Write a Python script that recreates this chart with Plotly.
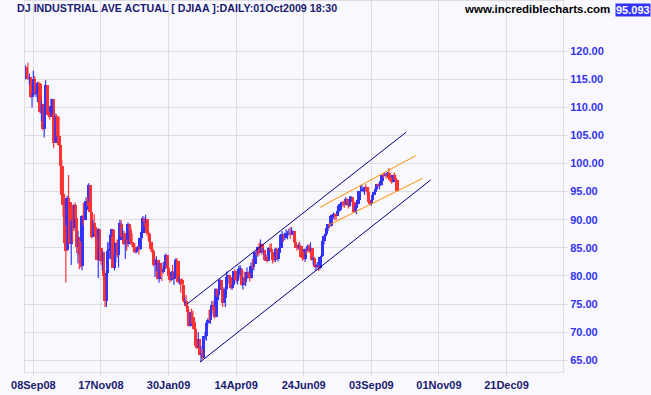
import plotly.graph_objects as go

# ---------------- data (DJIA, points; chart shows points / 100) ----------------
# daily bars from 28 Aug 2008 to 01 Oct 2009, one line per trading week
opens = [
    11503, 11713, 11545, 11515, 11531, 11185,
    11224, 11511, 11230, 11267, 11432,
    11416, 10905, 11056, 10610, 11027,
    11388, 11015, 10855, 10825, 11020,
    11139, 10368, 10847, 10825, 10483,
    10322, 9956, 9435, 9261, 8568,
    8462, 9388, 9311, 8577, 8974,
    8853, 9265, 9034, 8519, 8690,
    8376, 8178, 9066, 8991, 9179,
    9320, 9320, 9617, 9135, 8696,
    8944, 8870, 8690, 8282, 8830,
    8497, 8273, 8424, 7995, 7550,
    8048, 8445, 8478, 8726,
    8826, 8149, 8418, 8592, 8376,
    8637, 8931, 8693, 8760, 8565,
    8629, 8565, 8922, 8823, 8604,
    8579, 8520, 8420, 8468,
    8514, 8483, 8668, 8772,
    9034, 8954, 9015, 8769, 8738,
    8599, 8473, 8447, 8199, 8211,
    8279, 7949, 8226, 8120,
    8078, 8116, 8174, 8373, 8149,
    7998, 7937, 8077, 7954, 8062,
    8278, 8269, 7888, 7938, 7933,
    7845, 7552, 7555, 7461,
    7366, 7115, 7350, 7269, 7180,
    7056, 6764, 6726, 6874, 6595,
    6625, 6547, 6923, 6931, 7170,
    7223, 7216, 7392, 7484, 7400,
    7279, 7772, 7661, 7750, 7923,
    7775, 7523, 7606, 7761, 7978,
    8015, 7974, 7790, 7838,
    8080, 8056, 7919, 8028, 8124,
    8128, 7841, 7968, 7886, 7957,
    8075, 8024, 7957, 8186, 8168,
    8212, 8425, 8411, 8510, 8410,
    8572, 8419, 8467, 8284, 8330,
    8268, 8504, 8474, 8421, 8292,
    8277, 8472, 8301, 8403,
    8500, 8720, 8739, 8673, 8751,
    8762, 8763, 8763, 8740, 8770,
    8798, 8612, 8504, 8497, 8555,
    8538, 8340, 8323, 8299, 8471,
    8439, 8528, 8447, 8503,
    8280, 8324, 8163, 8179, 8182,
    8147, 8332, 8360, 8614, 8710,
    8743, 8849, 8915, 8882, 9068,
    9093, 9107, 9095, 9071, 9153,
    9172, 9285, 9320, 9281, 9256,
    9370, 9336, 9241, 9361, 9397,
    9320, 9136, 9217, 9279, 9350,
    9506, 9510, 9539, 9543, 9581,
    9545, 9497, 9311, 9281, 9345,
    9442, 9497, 9547, 9627,
    9605, 9626, 9684, 9791, 9784,
    9820, 9778, 9830, 9748, 9707,
    9664, 9790, 9742, 9712,
]
highs = [
    11750, 11716, 11790, 11600, 11532, 11260,
    11650, 11550, 11380, 11450, 11460,
    11416, 11120, 11056, 11060, 11480,
    11388, 11100, 10920, 11150, 11150,
    11139, 10890, 10880, 10830, 10840,
    10322, 10070, 9600, 9460, 8900,
    9427, 9794, 9311, 9000, 9265,
    9280, 9306, 9034, 8800, 8690,
    8615, 9080, 9300, 9300, 9400,
    9400, 9650, 9617, 9135, 9000,
    9100, 8870, 8690, 8850, 8830,
    8500, 8450, 8430, 8000, 8100,
    8600, 8600, 8750, 8830,
    8826, 8425, 8600, 8650, 8650,
    9000, 8990, 8850, 8800, 8650,
    8650, 8950, 8930, 8870, 8750,
    8600, 8580, 8480, 8530,
    8530, 8680, 8830, 9065,
    9040, 9088, 9015, 8800, 8770,
    8610, 8550, 8450, 8300, 8350,
    8280, 8240, 8230, 8150,
    8250, 8250, 8400, 8373, 8240,
    8000, 8090, 8200, 8090, 8310,
    8320, 8270, 7990, 7940, 7960,
    7850, 7620, 7660, 7470,
    7400, 7360, 7420, 7380, 7200,
    7060, 6860, 7000, 6874, 6760,
    6710, 6930, 7010, 7170, 7250,
    7400, 7400, 7550, 7560, 7460,
    7780, 7775, 7900, 7950, 7923,
    7775, 7800, 7770, 8080, 8020,
    8020, 7974, 7870, 8090,
    8120, 8060, 8040, 8180, 8190,
    8128, 7990, 8080, 7970, 8150,
    8080, 8050, 8240, 8300, 8240,
    8430, 8450, 8520, 8590, 8650,
    8572, 8500, 8467, 8380, 8370,
    8510, 8570, 8580, 8420, 8360,
    8500, 8500, 8460, 8510,
    8740, 8800, 8740, 8760, 8830,
    8800, 8840, 8860, 8870, 8810,
    8798, 8660, 8550, 8580, 8610,
    8538, 8380, 8430, 8490, 8480,
    8560, 8560, 8600, 8503,
    8340, 8330, 8210, 8250, 8190,
    8340, 8380, 8630, 8720, 8760,
    8860, 8920, 8940, 9080, 9100,
    9130, 9110, 9100, 9250, 9230,
    9290, 9320, 9330, 9340, 9400,
    9380, 9340, 9420, 9420, 9400,
    9320, 9230, 9290, 9360, 9510,
    9600, 9620, 9580, 9590, 9630,
    9545, 9580, 9360, 9350, 9450,
    9500, 9560, 9630, 9650,
    9630, 9690, 9800, 9830, 9840,
    9820, 9850, 9917, 9790, 9750,
    9800, 9840, 9800, 9712,
]
lows = [
    11499, 11520, 11485, 11400, 11170, 10995,
    11224, 11220, 11180, 11090, 11300,
    10890, 10750, 10590, 10460, 11020,
    11010, 10840, 10780, 10825, 10880,
    10270, 10368, 10710, 10460, 10300,
    9525, 9430, 9050, 8570, 7882,
    8462, 9094, 8577, 8197, 8600,
    8800, 8980, 8410, 8220, 8120,
    8150, 8100, 8900, 8990, 9000,
    9250, 9320, 9130, 8670, 8690,
    8770, 8590, 8280, 7966, 8460,
    8200, 8100, 7990, 7449, 7450,
    8048, 8300, 8300, 8700,
    8140, 8100, 8250, 8330, 8150,
    8637, 8680, 8650, 8550, 8300,
    8450, 8520, 8730, 8550, 8520,
    8420, 8410, 8400, 8440,
    8380, 8460, 8650, 8760,
    8890, 8940, 8720, 8650, 8560,
    8420, 8400, 8170, 7980, 8080,
    7940, 7880, 7990, 7910,
    8040, 8080, 8174, 8130, 7990,
    7880, 7910, 7950, 7840, 8060,
    8200, 7870, 7850, 7700, 7840,
    7530, 7480, 7440, 7250,
    7100, 7100, 7150, 7170, 7040,
    6760, 6700, 6726, 6590, 6470,
    6520, 6547, 6870, 6850, 7120,
    7200, 7150, 7300, 7350, 7240,
    7279, 7630, 7570, 7750, 7750,
    7450, 7523, 7450, 7761, 7860,
    7840, 7770, 7750, 7838,
    7950, 7880, 7850, 7940, 8000,
    7830, 7760, 7860, 7820, 7940,
    7960, 7900, 7957, 8130, 8100,
    8212, 8350, 8340, 8370, 8410,
    8380, 8380, 8270, 8270, 8240,
    8268, 8450, 8410, 8220, 8250,
    8250, 8300, 8260, 8360,
    8500, 8680, 8610, 8640, 8690,
    8650, 8720, 8660, 8730, 8720,
    8580, 8500, 8450, 8470, 8500,
    8320, 8270, 8290, 8250, 8380,
    8430, 8410, 8440, 8270,
    8200, 8150, 8090, 8150, 8090,
    8110, 8300, 8360, 8560, 8670,
    8740, 8800, 8850, 8880, 8990,
    9020, 8990, 9000, 9071, 9130,
    9172, 9250, 9230, 9210, 9256,
    9300, 9200, 9230, 9320, 9270,
    9120, 9130, 9100, 9270, 9350,
    9500, 9500, 9490, 9440, 9500,
    9450, 9300, 9260, 9250, 9340,
    9440, 9460, 9520, 9580,
    9540, 9600, 9680, 9750, 9770,
    9730, 9770, 9740, 9670, 9640,
    9664, 9720, 9610, 9500,
]
closes = [
    11715, 11543, 11516, 11532, 11188, 11220,
    11510, 11231, 11268, 11433, 11421,
    10917, 11059, 10609, 11019, 11388,
    11015, 10854, 10825, 11022, 11143,
    10365, 10851, 10831, 10483, 10325,
    9955, 9447, 9258, 8579, 8451,
    9387, 9310, 8577, 8979, 8852,
    9265, 9033, 8519, 8691, 8378,
    8175, 9065, 8990, 9180, 9325,
    9319, 9625, 9139, 8695, 8943,
    8870, 8693, 8283, 8835, 8497,
    8273, 8424, 7997, 7552, 8046,
    8443, 8479, 8726, 8829,
    8149, 8419, 8591, 8376, 8635,
    8934, 8691, 8761, 8565, 8629,
    8564, 8924, 8824, 8604, 8579,
    8519, 8419, 8468, 8515,
    8483, 8668, 8776, 9034,
    8952, 9015, 8769, 8742, 8599,
    8474, 8448, 8200, 8212, 8281,
    7949, 8228, 8123, 8077,
    8116, 8175, 8375, 8149, 8001,
    7936, 8078, 7956, 8063, 8280,
    8270, 7889, 7939, 7932, 7850,
    7553, 7556, 7465, 7366,
    7114, 7351, 7270, 7182, 7063,
    6763, 6726, 6876, 6594, 6627,
    6547, 6926, 6930, 7170, 7224,
    7216, 7395, 7486, 7400, 7278,
    7776, 7660, 7749, 7924, 7776,
    7522, 7609, 7761, 7978, 8017,
    7975, 7789, 7837, 8083,
    8058, 7920, 8029, 8125, 8131,
    7841, 7969, 7886, 7957, 8076,
    8025, 7956, 8185, 8168, 8212,
    8426, 8410, 8512, 8409, 8575,
    8418, 8469, 8284, 8331, 8268,
    8504, 8474, 8422, 8292, 8277,
    8473, 8300, 8403, 8500,
    8721, 8740, 8675, 8750, 8764,
    8764, 8763, 8739, 8770, 8799,
    8612, 8504, 8497, 8555, 8539,
    8340, 8323, 8299, 8472, 8438,
    8530, 8447, 8504, 8280,
    8324, 8163, 8178, 8183, 8146,
    8332, 8359, 8616, 8711, 8743,
    8848, 8916, 8881, 9069, 9093,
    9108, 9096, 9070, 9154, 9172,
    9286, 9320, 9280, 9256, 9370,
    9337, 9241, 9361, 9398, 9321,
    9136, 9218, 9279, 9350, 9506,
    9509, 9539, 9543, 9581, 9545,
    9497, 9311, 9281, 9345, 9442,
    9497, 9547, 9627, 9606,
    9627, 9684, 9792, 9784, 9821,
    9778, 9830, 9749, 9707, 9665,
    9790, 9742, 9712, 9509,
]
first_bar_offset = -6          # 28Aug08 is 6 trading days before 08Sep08

tick_positions = [0, 50, 100, 150, 200, 250, 300, 350]   # trading-day index
tick_labels = ["08Sep08", "17Nov08", "30Jan09", "14Apr09",
               "24Jun09", "03Sep09", "01Nov09", "21Dec09"]
y_ticks = [65, 70, 75, 80, 85, 90, 95, 100, 105, 110, 115, 120]

# trend lines (trading-day index, index value)
channel_upper_x = [113.5, 275.7]
channel_upper_y = [74.97, 105.55]
channel_lower_x = [123.3, 293.9]
channel_lower_y = [64.70, 97.07]
minor_upper_x = [212.1, 282.8]
minor_upper_y = [92.21, 101.39]
minor_lower_x = [218.2, 288.0]
minor_lower_y = [89.01, 97.37]

title_text = "DJ INDUSTRIAL AVE ACTUAL [ DJIAA ]:DAILY:01Oct2009 18:30"
site_text = "www.incrediblecharts.com"
last_value = "95.093"

# ---------------- styling ----------------
BG = "#f8f8fe"
GRID = "#dedee2"
RED = "#ff3333"
BLUE = "#3333ff"
NAVY = "#000080"
ORANGE = "#ff8c00"
FONT = "Liberation Sans, Arial, sans-serif"

assert len(opens) == len(highs) == len(lows) == len(closes)
n = len(closes)
scale = 0.01
O = [v * scale for v in opens]
H = [v * scale for v in highs]
L = [v * scale for v in lows]
C = [v * scale for v in closes]
X = [first_bar_offset + k for k in range(n)]

up = [C[k] >= O[k] for k in range(n)]
colors = [BLUE if u else RED for u in up]
base = [min(O[k], C[k]) for k in range(n)]
body = [max(abs(C[k] - O[k]), 0.1) for k in range(n)]

fig = go.Figure()

# wicks
for flag, col in ((True, BLUE), (False, RED)):
    wx, wy = [], []
    for k in range(n):
        if up[k] == flag:
            wx += [X[k], X[k], None]
            wy += [L[k], H[k], None]
    fig.add_trace(go.Scatter(x=wx, y=wy, mode="lines",
                             line=dict(color=col, width=1.2),
                             hoverinfo="skip", showlegend=False))

# bodies
fig.add_trace(go.Bar(x=X, y=body, base=base, width=2.6,
                     marker=dict(color=colors, line=dict(width=0)),
                     showlegend=False))

for xs, ys, col in ((channel_upper_x, channel_upper_y, NAVY),
                    (channel_lower_x, channel_lower_y, NAVY),
                    (minor_upper_x, minor_upper_y, ORANGE),
                    (minor_lower_x, minor_lower_y, ORANGE)):
    fig.add_trace(go.Scatter(x=xs, y=ys, mode="lines",
                             line=dict(color=col, width=1),
                             showlegend=False))

W, HGT = 651, 395
PL, PR, PT, PB = 25, 563, 1, 372


def px(xp):
    return (xp - PL) / (PR - PL)


def py(yp):
    return (PB - yp) / (PB - PT)


fig.update_layout(
    width=W, height=HGT,
    margin=dict(l=PL, r=W - PR, t=PT, b=HGT - PB, pad=0),
    paper_bgcolor=BG, plot_bgcolor=BG,
    showlegend=False, bargap=0,
    xaxis=dict(range=[-6.2, 391.8], tickmode="array",
               tickvals=tick_positions, ticktext=tick_labels,
               showgrid=True, gridcolor=GRID, gridwidth=1, zeroline=False,
               showline=True, linecolor=GRID, linewidth=1, mirror=True,
               ticks="outside", ticklen=3, tickcolor=GRID,
               tickfont=dict(family=FONT, size=11, color="#1a1a70", weight="bold"),
               fixedrange=True),
    yaxis=dict(range=[62.93, 128.89], side="right", tickmode="array",
               tickvals=y_ticks, ticktext=[f"{v:.2f}" for v in y_ticks],
               showgrid=True, gridcolor=GRID, gridwidth=1, zeroline=False,
               showline=True, linecolor=GRID, linewidth=1, mirror=True,
               ticks="outside", ticklen=4, tickcolor=GRID,
               tickfont=dict(family=FONT, size=11, color="#3333ee", weight="bold"),
               fixedrange=True),
    annotations=[
        dict(text=title_text, xref="paper", yref="paper",
             x=px(14.5), y=py(8.5), xanchor="left", yanchor="middle",
             showarrow=False,
             font=dict(family=FONT, size=10.7, color="#1a1a70", weight="bold")),
        dict(text=site_text, xref="paper", yref="paper",
             x=px(462), y=py(9), xanchor="left", yanchor="middle",
             showarrow=False,
             font=dict(family=FONT, size=11.5, color="#000000", weight="bold")),
        dict(text=last_value, xref="paper", yref="paper",
             x=px(650.5), y=py(9.5), xanchor="right", yanchor="middle",
             showarrow=False, bgcolor=BLUE, borderpad=0,
             font=dict(family=FONT, size=11, color="#ffffff", weight="bold")),
    ],
)

fig.write_html("out.html",
               config={"displayModeBar": False, "staticPlot": True},
               post_script="document.body.style.margin='0';"
                           "document.body.style.background='" + BG + "';")
